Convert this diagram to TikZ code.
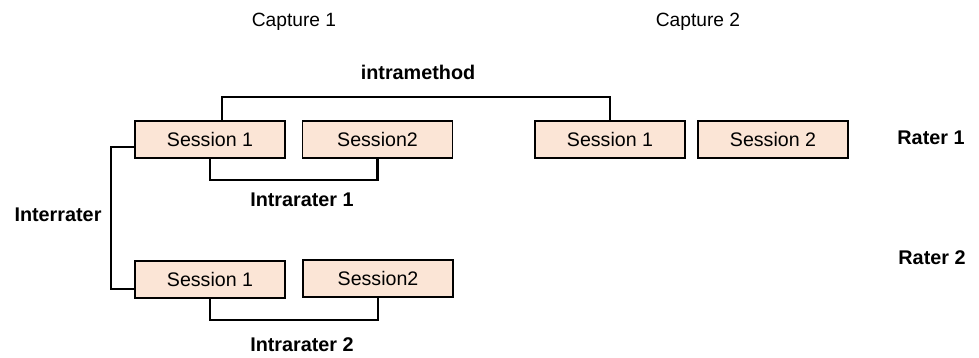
\documentclass[tikz,border=0pt]{standalone}
\usepackage{fontspec}
\setmainfont{Liberation Sans}
\definecolor{sessfill}{HTML}{FBE5D6}
\begin{document}
\begin{tikzpicture}[x=0.5pt,y=0.5pt,yscale=-1,
  sess/.style={draw=black,line width=0.75pt,fill=sessfill,minimum width=75pt,minimum height=18.5pt,inner sep=0pt,font=\fontsize{9.8}{11}\selectfont},
  head/.style={font=\fontsize{9.6}{11}\selectfont},
  lab/.style={font=\fontsize{9.9}{11}\selectfont\bfseries},
  link/.style={line width=1.1pt}]
\useasboundingbox (0,0) rectangle (979,358);

%Headers
\node[head] (cap1) at (294,22) {Capture 1};
\node[head] (cap2) at (698,22) {Capture 2};

%Rater 1 row
\node[sess] (s11) at (210,139.5) {Session 1};
\node[sess] (s12) at (377.5,139.5) {Session2};
\node[sess] (s21) at (610,139.5) {Session 1};
\node[sess] (s22) at (773,139.5) {Session 2};
\node[lab] (rater1) at (931,138) {Rater 1};

%Rater 2 row
\node[sess] (r2s1) at (210,279.5) {Session 1};
\node[sess] (r2s2) at (378,278.5) {Session2};
\node[lab] (rater2) at (932,258) {Rater 2};

%Labels
\node[lab] (intram) at (418,72) {intramethod};
\node[lab] (intra1) at (302,200) {Intrarater 1};
\node[lab] (inter) at (58,215) {Interrater};
\node[lab] (intra2) at (302,345) {Intrarater 2};

%Connectors
\draw[link] ([xshift=6pt]s11.north) -- ++(0,-23) -| (s21.north);
\draw[link] (s11.south) -- ++(0,21) -| (s12.south);
\draw[link] (r2s1.south) -- ++(0,21) -| (r2s2.south);
\draw[link] ([yshift=3.75pt]s11.west) -- ++(-23,0) |- ([yshift=4.75pt]r2s1.west);
\end{tikzpicture}
\end{document}
